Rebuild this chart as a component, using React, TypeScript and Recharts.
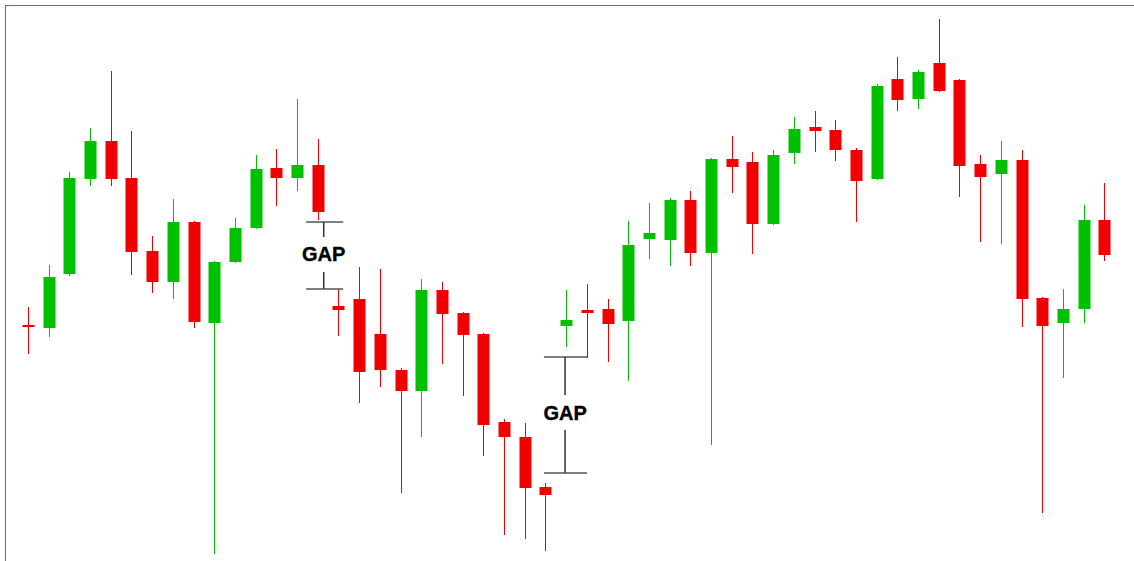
import React from "react";
import {
  ComposedChart,
  Bar,
  XAxis,
  YAxis,
  ReferenceLine,
  ReferenceDot,
} from "recharts";

// price units (arbitrary scale, 0 = bottom edge)
const opens = [
  236, 233, 287, 382, 420, 383, 310, 279, 339, 238, 299, 333, 393, 383, 396,
  255, 262, 227, 191, 170, 271, 248, 227, 139, 124, 74, 235, 251, 252, 240,
  322, 321, 361, 308, 402, 399, 337, 408, 434, 431, 411, 382, 482, 462, 498,
  481, 397, 387, 401, 263, 238, 252, 341,
];
const highs = [
  254, 296, 389, 433, 490, 430, 325, 362, 340, 300, 343, 406, 412, 462, 422,
  272, 294, 292, 193, 282, 279, 249, 228, 142, 138, 78, 271, 277, 262, 340,
  358, 363, 370, 403, 425, 409, 411, 444, 450, 441, 413, 477, 504, 491, 542,
  482, 406, 420, 411, 264, 272, 356, 378,
];
const lows = [
  207, 224, 285, 375, 375, 286, 268, 262, 233, 7, 298, 332, 355, 370, 341,
  225, 158, 174, 68, 124, 197, 165, 105, 26, 22, 10, 214, 203, 199, 180,
  302, 295, 295, 116, 368, 307, 336, 397, 409, 400, 339, 381, 450, 452, 469,
  364, 319, 317, 234, 48, 183, 238, 300,
];
const closes = [
  234, 284, 383, 420, 382, 309, 279, 339, 239, 299, 333, 392, 383, 396, 349,
  251, 189, 191, 170, 271, 247, 226, 136, 124, 73, 66, 241, 248, 237, 316,
  328, 361, 308, 402, 394, 337, 406, 432, 430, 411, 380, 475, 461, 489, 470,
  395, 384, 401, 262, 235, 252, 341, 306,
];

// the two "GAP" markers, in bar-index / price units
const gapMarks = [
  { from: 13.42, to: 15.21, mid: 14.27, top: 339, topTick: 324, label: 307, lowTick: 289, bottom: 272 },
  { from: 24.91, to: 26.99, mid: 25.93, top: 204, topTick: 166, label: 148, lowTick: 131, bottom: 88 },
];

const UP = "#00c000";
const DOWN = "#f00000";

const data = opens.map((o, i) => ({
  i,
  open: o,
  high: highs[i],
  low: lows[i],
  close: closes[i],
}));

function Candle(props: any) {
  const { x, y, width, height, payload } = props;
  const { open, close, high, low } = payload;
  const h = Math.abs(height);
  const top = height < 0 ? y + height : y;
  const k = high === low ? 0 : h / (high - low);
  const yOf = (v: number) => top + (high - v) * k;
  const cx = Math.round(x + width / 2) + 0.5;
  const color = close >= open ? UP : DOWN;
  const bodyTop = yOf(Math.max(open, close));
  const bodyH = Math.max(2, Math.abs(yOf(open) - yOf(close)));
  const bw = 12;
  return (
    <g>
      <line x1={cx} x2={cx} y1={top} y2={top + h} stroke={color} strokeWidth={1} />
      <rect x={cx - bw / 2} y={bodyTop} width={bw} height={bodyH} fill={color} />
    </g>
  );
}

const gapText = ({ viewBox }: any) => (
  <text
    x={viewBox.x + viewBox.width / 2}
    y={viewBox.y + viewBox.height / 2}
    textAnchor="middle"
    dominantBaseline="central"
    fontFamily="'Liberation Sans', Arial, sans-serif"
    fontWeight="bold"
    fontSize={20}
    fill="#000"
    stroke="#000"
    strokeWidth={0.4}
  >
    GAP
  </text>
);

export default function App() {
  return (
    <div
      style={{
        position: "absolute",
        left: 0,
        top: 0,
        width: 1134,
        height: 561,
        background: "#fff",
        fontFamily: "'Liberation Sans', Arial, sans-serif",
      }}
    >
      <div
        style={{
          position: "absolute",
          left: 5,
          top: 5,
          width: 1129,
          height: 556,
          borderTop: "1px solid #4472c4",
          borderLeft: "1px solid #4472c4",
        }}
      />
      <div style={{ position: "absolute", left: 0, top: 0 }}>
        <ComposedChart
          width={1134}
          height={561}
          data={data}
          margin={{ top: 0, right: 19, bottom: 0, left: 18 }}
        >
          <XAxis
            dataKey="i"
            type="number"
            domain={[-0.5, 52.5]}
            allowDataOverflow
            hide
          />
          <YAxis domain={[0, 561]} allowDataOverflow hide />
          <Bar
            dataKey={(d: any) => [d.low, d.high]}
            shape={<Candle />}
            barSize={12}
            isAnimationActive={false}
          />
          {gapMarks.map((g, n) => (
            <React.Fragment key={n}>
              <ReferenceLine
                segment={[{ x: g.from, y: g.top }, { x: g.to, y: g.top }]}
                stroke="#555"
                strokeWidth={1.5}
              />
              <ReferenceLine
                segment={[{ x: g.mid, y: g.top }, { x: g.mid, y: g.topTick }]}
                stroke="#333"
                strokeWidth={1.5}
              />
              <ReferenceLine
                segment={[{ x: g.mid, y: g.lowTick }, { x: g.mid, y: g.bottom }]}
                stroke="#333"
                strokeWidth={1.5}
              />
              <ReferenceLine
                segment={[{ x: g.from, y: g.bottom }, { x: g.to, y: g.bottom }]}
                stroke="#555"
                strokeWidth={1.5}
              />
              <ReferenceDot
                x={g.mid}
                y={g.label}
                r={0}
                fill="none"
                stroke="none"
                label={gapText}
              />
            </React.Fragment>
          ))}
        </ComposedChart>
      </div>
    </div>
  );
}
